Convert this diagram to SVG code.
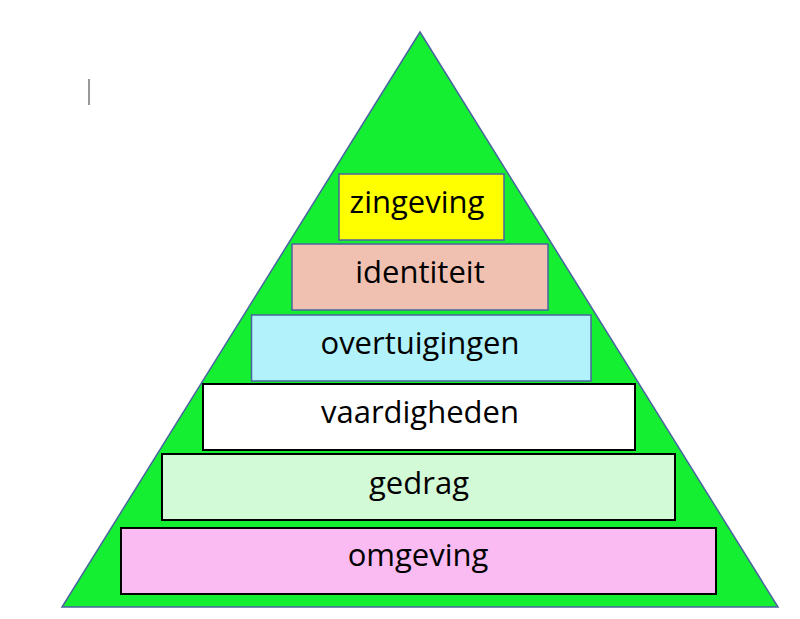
<svg xmlns="http://www.w3.org/2000/svg" width="800" height="619" viewBox="0 0 800 619">
<style>
.lbl{font-family:"Open Sans","Noto Sans",sans-serif;font-size:31px;fill:#000;text-anchor:middle}
.b{stroke:#4a64a0;stroke-width:1.5}
.k{stroke:#000;stroke-width:2}
</style>
<rect width="800" height="619" fill="#fff"/>
<line x1="89" y1="79" x2="89" y2="105" stroke="#333" stroke-width="1"/>
<g id="pyramid"><polygon points="420,32 62,607 778,607" fill="#14ef32" stroke="#4a64a0" stroke-width="1.5"/></g>
<g id="connectors"></g>
<g id="zingeving"><rect class="b" x="339" y="174" width="165" height="66" fill="#ffff00"/><text class="lbl" x="417" y="213">zingeving</text></g>
<g id="identiteit"><rect class="b" x="292" y="244" width="256" height="66" fill="#f0c0b0"/><text class="lbl" x="420" y="283">identiteit</text></g>
<g id="overtuigingen"><rect class="b" x="251.5" y="315" width="339.5" height="66" fill="#b2f2fb"/><text class="lbl" x="420" y="354">overtuigingen</text></g>
<g id="vaardigheden"><rect class="k" x="203" y="384" width="432" height="66" fill="#ffffff"/><text class="lbl" x="420" y="423">vaardigheden</text></g>
<g id="gedrag"><rect class="k" x="162" y="454" width="513" height="66" fill="#d2fad6"/><text class="lbl" x="419" y="494">gedrag</text></g>
<g id="omgeving"><rect class="k" x="121" y="528" width="595" height="66" fill="#fabbf2"/><text class="lbl" x="418" y="566">omgeving</text></g>
</svg>
